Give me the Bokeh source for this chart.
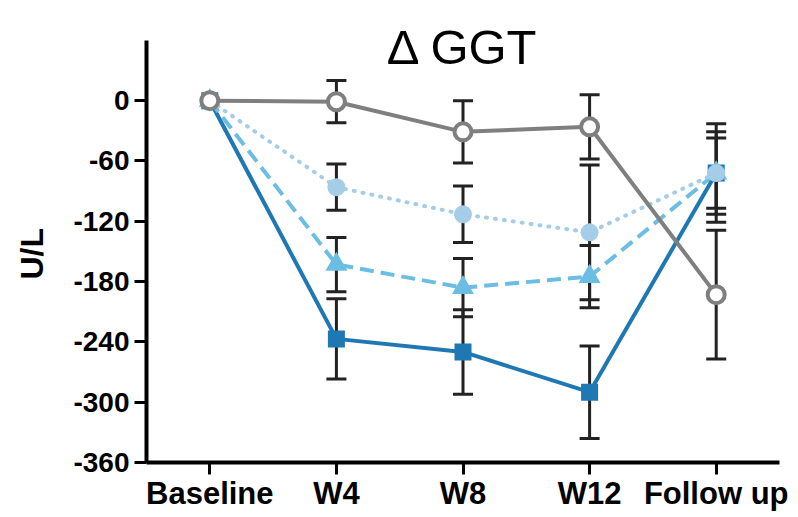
from bokeh.plotting import figure
from bokeh.models import ColumnDataSource, Whisker, TeeHead, FixedTicker, Range1d, FactorRange, Label
from bokeh.embed import file_html
from bokeh.resources import INLINE

categories = ["Baseline", "W4", "W8", "W12", "Follow up"]
y_ticks = [0, -60, -120, -180, -240, -300, -360]

gray_mean = [0, -1, -31, -26, -193]
gray_err = [0, 21, 31, 32, 64]
dotted_mean = [0, -86, -113, -131, -72]
dotted_err = [0, 23, 28, 67, 35]
dashed_mean = [0, -163, -186, -175, -72]
dashed_err = [0, 27, 29, 31, 41]
solid_mean = [0, -237, -250, -290, -72]
solid_err = [0, 40, 42, 46, 49]

FONT = "Liberation Sans"

# frame extends to the top of the canvas so the title label is not clipped;
# the visible y axis is bounded to [-360, 60]
p = figure(x_range=FactorRange(*categories, range_padding=0), y_range=Range1d(-360, 99.7),
           width=790, height=513, output_backend="svg", toolbar_location=None,
           min_border_left=146, min_border_right=11, min_border_top=0, min_border_bottom=50)
p.outline_line_color = None
p.xgrid.visible = False
p.ygrid.visible = False

for ax in (p.xaxis, p.yaxis):
    ax.axis_line_width = 4
    ax.axis_line_color = "black"
    ax.major_tick_out = 12
    ax.major_tick_in = 0
    ax.major_tick_line_width = 3
    ax.major_tick_line_color = "black"
    ax.minor_tick_line_color = None
    ax.major_label_text_font = FONT
    ax.major_label_text_font_style = "bold"
    ax.major_label_text_color = "black"

p.xaxis.major_label_text_font_size = "31px"
p.xaxis.major_label_standoff = 1
p.yaxis.major_label_text_font_size = "28px"
p.yaxis.major_label_standoff = 5
p.yaxis.ticker = FixedTicker(ticks=y_ticks)
p.yaxis.bounds = (min(y_ticks), 60)
p.yaxis.major_label_overrides = {t: str(t) for t in y_ticks}
# trailing no-break spaces shift the rotated label down to the centre of the bounded axis
p.yaxis.axis_label = "U/L" + "\u00a0" * 5
p.yaxis.axis_label_text_font = FONT
p.yaxis.axis_label_text_font_style = "bold"
p.yaxis.axis_label_text_font_size = "32px"
p.yaxis.axis_label_text_color = "black"
p.yaxis.axis_label_standoff = 20

series = [
    (solid_mean, solid_err, "#1f77b4", "solid", "square", 17, "#1f77b4"),
    (dashed_mean, dashed_err, "#6cbde3", "14 7", "triangle", 22, "#6cbde3"),
    (dotted_mean, dotted_err, "#a6cde8", "1 8", "circle", 18, "#a6cde8"),
    (gray_mean, gray_err, "#7f7f7f", "solid", "circle", 17, "white"),
]

# error bars first
for mean, err, color, dash, marker, size, fill in series:
    xs = [c for c, e in zip(categories, err) if e > 0]
    up = [m + e for m, e in zip(mean, err) if e > 0]
    lo = [m - e for m, e in zip(mean, err) if e > 0]
    src = ColumnDataSource(dict(x=xs, upper=up, lower=lo))
    w = Whisker(source=src, base="x", upper="upper", lower="lower",
                line_color="#222222", line_width=3,
                upper_head=TeeHead(size=20, line_width=3, line_color="#222222"),
                lower_head=TeeHead(size=20, line_width=3, line_color="#222222"))
    p.add_layout(w)

for mean, err, color, dash, marker, size, fill in series:
    src = ColumnDataSource(dict(x=categories, y=mean))
    p.line("x", "y", source=src, line_color=color, line_width=4, line_dash=dash,
           line_cap="round" if dash == "1 8" else "butt")
    if fill == "white":
        p.scatter("x", "y", source=src, marker=marker, size=size, fill_color="white",
                  line_color=color, line_width=4)
    else:
        p.scatter("x", "y", source=src, marker=marker, size=size, fill_color=fill,
                  line_color=None)

title = Label(x=2.5, y=53, text="\u0394 GGT", text_align="center", text_baseline="alphabetic",
              text_font=FONT, text_font_size="49px", text_color="black")
p.add_layout(title)

open("out.html", "w").write(file_html(p, INLINE))
